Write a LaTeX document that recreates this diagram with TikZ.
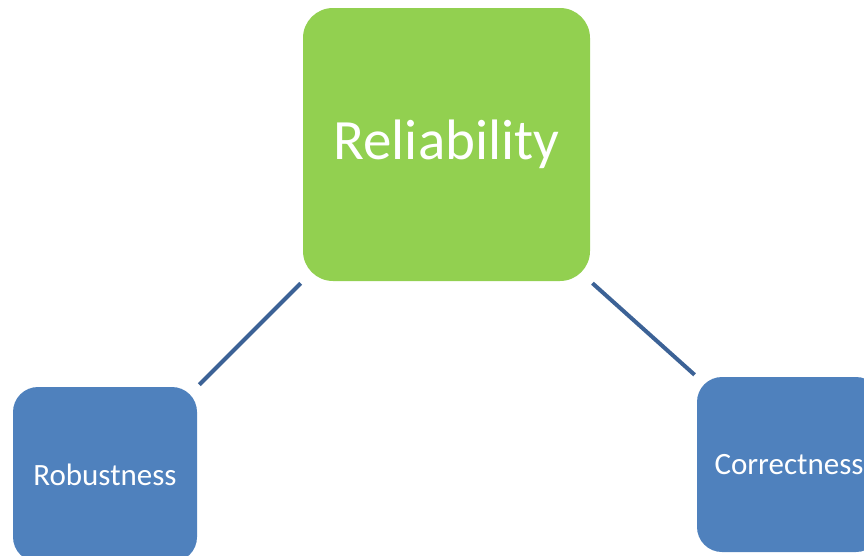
\documentclass[tikz,border=0pt]{standalone}
\usepackage{fontspec}
\setmainfont{Carlito}
\usetikzlibrary{positioning}
\definecolor{relgreen}{HTML}{92D050}
\definecolor{subblue}{HTML}{4F81BD}
\definecolor{linkblue}{RGB}{60,98,150}

\begin{document}
\begin{tikzpicture}[
    x=1pt, y=-1pt,
    topbox/.style={fill=relgreen, rounded corners=30pt, inner sep=0pt,
      minimum width=287pt, minimum height=273pt, text=white,
      font=\fontsize{57}{68}\selectfont},
    subbox/.style={fill=subblue, rounded corners=25pt, inner sep=0pt,
      minimum width=184pt, minimum height=175pt, text=white,
      font=\fontsize{31}{37}\selectfont},
    link/.style={draw=linkblue, line width=4pt, shorten <=3pt, shorten >=3pt},
  ]
  \useasboundingbox (0,0) rectangle (864,555);
  \clip (0,0) rectangle (864,555);
  \node[topbox] (rel) at (446.5,144.5) {Reliability};
  \node[subbox] (rob) at (105,474.5) {Robustness};
  \node[subbox] (cor) at (789,464.5) {Correctness};
  \draw[link] (rel.south west) -- (rob.north east);
  \draw[link] (rel.south east) -- (cor.north west);
\end{tikzpicture}
\end{document}
